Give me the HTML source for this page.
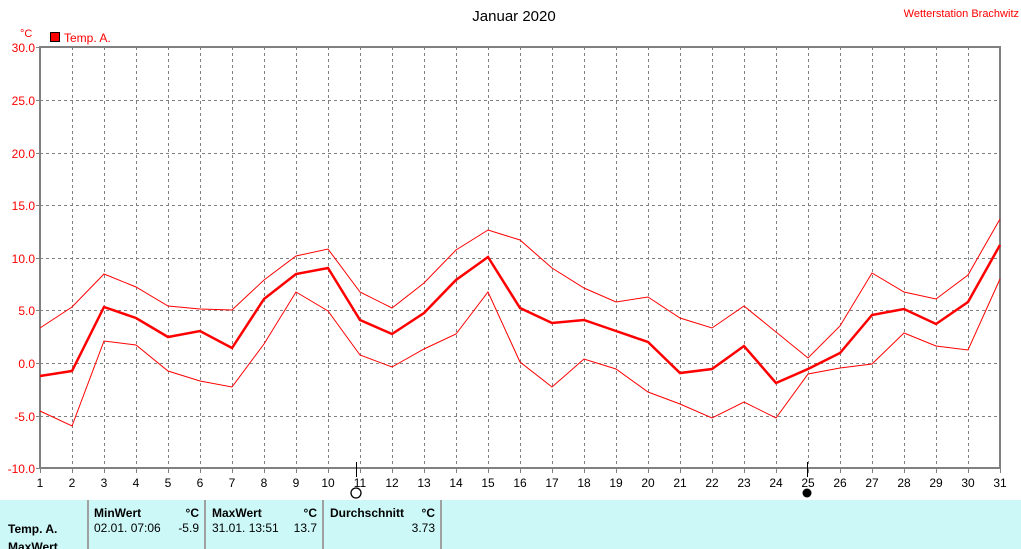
<!DOCTYPE html>
<html><head><meta charset="utf-8"><style>
body{margin:0;background:#fff;width:1021px;height:549px;overflow:hidden;font-family:"Liberation Sans",sans-serif}
svg{position:absolute;left:0;top:0}
</style></head><body>
<svg width="1021" height="549" xmlns="http://www.w3.org/2000/svg" font-family="Liberation Sans, sans-serif">
<text x="514" y="21" font-size="15" text-anchor="middle" fill="#000">Januar 2020</text>
<text x="1019" y="17" font-size="11" text-anchor="end" fill="#f00">Wetterstation Brachwitz</text>
<text x="20" y="37" font-size="11" fill="#f00">°C</text>
<rect x="50.5" y="32.5" width="9" height="9" fill="#f00" stroke="#000"/>
<text x="64" y="42" font-size="12" fill="#f00">Temp. A.</text>
<g stroke="#808080" stroke-dasharray="3,3" stroke-width="1">
<path d="M40 100.5H1000M40 153.5H1000M40 205.5H1000M40 258.5H1000M40 310.5H1000M40 363.5H1000M40 416.5H1000"/>
<path d="M72.5 47V468M104.5 47V468M136.5 47V468M168.5 47V468M200.5 47V468M232.5 47V468M264.5 47V468M296.5 47V468M328.5 47V468M360.5 47V468M392.5 47V468M424.5 47V468M456.5 47V468M488.5 47V468M520.5 47V468M552.5 47V468M584.5 47V468M616.5 47V468M648.5 47V468M680.5 47V468M712.5 47V468M744.5 47V468M776.5 47V468M808.5 47V468M840.5 47V468M872.5 47V468M904.5 47V468M936.5 47V468M968.5 47V468"/>
</g>
<rect x="40" y="47" width="960" height="421" fill="none" stroke="#808080" stroke-width="2"/>
<g stroke="#808080" stroke-width="1">
<path d="M36 47.5H40M36 100.5H40M36 153.5H40M36 205.5H40M36 258.5H40M36 310.5H40M36 363.5H40M36 416.5H40M36 468.5H40"/>
<path d="M40.5 468V473M72.5 468V473M104.5 468V473M136.5 468V473M168.5 468V473M200.5 468V473M232.5 468V473M264.5 468V473M296.5 468V473M328.5 468V473M360.5 468V473M392.5 468V473M424.5 468V473M456.5 468V473M488.5 468V473M520.5 468V473M552.5 468V473M584.5 468V473M616.5 468V473M648.5 468V473M680.5 468V473M712.5 468V473M744.5 468V473M776.5 468V473M808.5 468V473M840.5 468V473M872.5 468V473M904.5 468V473M936.5 468V473M968.5 468V473M1000.5 468V473"/>
</g>
<path d="M356.5 462V477M807.5 462V477" stroke="#000" stroke-width="1"/>
<circle cx="356" cy="493" r="5" fill="none" stroke="#000" stroke-width="1.3"/>
<circle cx="807" cy="493" r="4.5" fill="#000"/>
<g font-size="12" fill="#f00" text-anchor="end">
<text x="35" y="52">30.0</text><text x="35" y="105">25.0</text><text x="35" y="158">20.0</text><text x="35" y="210">15.0</text><text x="35" y="263">10.0</text><text x="35" y="315">5.0</text><text x="35" y="368">0.0</text><text x="35" y="421">-5.0</text><text x="35" y="473">-10.0</text>
</g>
<g font-size="12" fill="#000" text-anchor="middle">
<text x="40" y="487">1</text><text x="72" y="487">2</text><text x="104" y="487">3</text><text x="136" y="487">4</text><text x="168" y="487">5</text><text x="200" y="487">6</text><text x="232" y="487">7</text><text x="264" y="487">8</text><text x="296" y="487">9</text><text x="328" y="487">10</text><text x="360" y="487">11</text><text x="392" y="487">12</text><text x="424" y="487">13</text><text x="456" y="487">14</text><text x="488" y="487">15</text><text x="520" y="487">16</text><text x="552" y="487">17</text><text x="584" y="487">18</text><text x="616" y="487">19</text><text x="648" y="487">20</text><text x="680" y="487">21</text><text x="712" y="487">22</text><text x="744" y="487">23</text><text x="776" y="487">24</text><text x="808" y="487">25</text><text x="840" y="487">26</text><text x="872" y="487">27</text><text x="904" y="487">28</text><text x="936" y="487">29</text><text x="968" y="487">30</text><text x="1000" y="487">31</text>
</g>
<g fill="none" stroke="#f00">
<polyline stroke-width="1" points="40,328 72,307 104,274 136,287 168,306 200,309 232,310 264,280 296,256 328,249 360,292 392,308 424,283 456,250 488,230 520,240 552,268 584,288 616,302 648,297 680,318 712,328 744,306 776,332 808,358 840,326 872,273 904,292 936,299 968,275 1000,219"/>
<polyline stroke-width="2.5" points="40,376 72,371 104,307 136,318 168,337 200,331 232,348 264,299 296,274 328,268 360,320 392,334 424,313 456,280 488,257 520,308 552,323 584,320 616,331 648,342 680,373 712,369 744,346 776,383 808,369 840,353 872,315 904,309 936,324 968,302 1000,245"/>
<polyline stroke-width="1" points="40,411 72,426 104,341 136,345 168,371 200,381 232,387 264,344 296,292 328,311 360,355 392,367 424,349 456,334 488,292 520,362 552,387 584,359 616,369 648,392 680,404 712,418 744,402 776,418 808,374 840,368 872,364 904,333 936,346 968,350 1000,279"/>
</g>
<rect x="0" y="500" width="1021" height="49" fill="#ccf8f8"/>
<g stroke="#a0a0a0" stroke-width="2"><path d="M88 500V549M205 500V549M323 500V549M441 500V549"/></g>
<g font-size="12" fill="#000">
<text x="8" y="533" font-weight="bold">Temp. A.</text>
<text x="8" y="551" font-weight="bold">MaxWert</text>
<text x="94" y="517" font-weight="bold">MinWert</text><text x="199" y="517" font-weight="bold" text-anchor="end">°C</text>
<text x="94" y="532">02.01.  07:06</text><text x="199" y="532" text-anchor="end">-5.9</text>
<text x="212" y="517" font-weight="bold">MaxWert</text><text x="317" y="517" font-weight="bold" text-anchor="end">°C</text>
<text x="212" y="532">31.01.  13:51</text><text x="317" y="532" text-anchor="end">13.7</text>
<text x="330" y="517" font-weight="bold">Durchschnitt</text><text x="435" y="517" font-weight="bold" text-anchor="end">°C</text>
<text x="435" y="532" text-anchor="end">3.73</text>
</g>
</svg>
</body></html>
